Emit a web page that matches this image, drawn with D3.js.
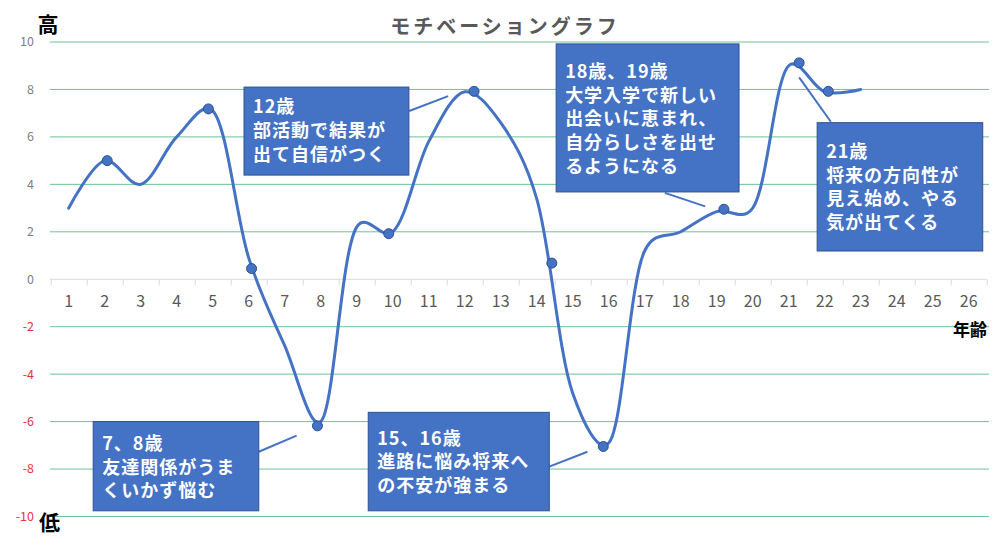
<!DOCTYPE html>
<html><head><meta charset="utf-8">
<script src="https://cdn.jsdelivr.net/npm/d3@7"></script>
<style>
html,body{margin:0;padding:0;background:#fff;}
svg{display:block;font-family:"Noto Sans CJK JP","Noto Sans",sans-serif;}
</style></head>
<body>
<svg id="chart" width="1000" height="537"></svg>
<script>
// ---- data ----
const title = "モチベーショングラフ";
const ages = [1,2,3,4,5,6,7,8,9,10,11,12,13,14,15,16,17,18,19,20,21,22,23];
const motivation = [3,5,4,6,7.1,0.9,-2.8,-6.0,2.2,2.0,5.8,7.9,6.6,3.4,-4.8,-6.9,1.2,2.0,2.85,3.0,9.0,7.9,8.0];
const axisCategories = ["1","2","3","4","5","6","7","8","9","10","11","12","13","14","15","16","17","18","19","20","21","22","23","24","25","26"];
const yTicks = [-10,-8,-6,-4,-2,0,2,4,6,8,10];
const markerAges = [2.07,4.88,6.08,7.91,9.89,12.26,14.42,15.85,19.2,21.29,22.1];
const markerValues = [5.0,7.18,0.45,-6.18,1.92,7.92,0.68,-7.05,2.95,9.12,7.92];
const noteTexts = [
  ["12歳","部活動で結果が","出て自信がつく"],
  ["18歳、19歳","大学入学で新しい","出会いに恵まれ、","自分らしさを出せ","るようになる"],
  ["21歳","将来の方向性が","見え始め、やる","気が出てくる"],
  ["7、8歳","友達関係がうま","くいかず悩む"],
  ["15、16歳","進路に悩み将来へ","の不安が強まる"]
];
const yHigh = "高", yLow = "低", xTitle = "年齢";

// ---- layout (data coordinates for annotation boxes and leaders) ----
const noteLayout = [
  {x0:5.87,x1:10.45,y0:8.10,y1:4.39,lx0:10.46,ly0:7.09,lx1:11.54,ly1:7.72,first:20},
  {x0:14.54,x1:19.62,y0:9.92,y1:3.68,lx0:17.56,ly0:3.64,lx1:18.68,ly1:3.07,first:28},
  {x0:21.79,x1:26.39,y0:6.60,y1:1.19,lx0:22.17,ly0:6.64,lx1:21.29,ly1:8.51,first:29},
  {x0:1.68,x1:6.28,y0:-6.0,y1:-9.76,lx0:6.28,ly0:-7.27,lx1:7.33,ly1:-6.59,first:22},
  {x0:9.32,x1:14.35,y0:-5.61,y1:-9.76,lx0:14.35,ly0:-7.90,lx1:15.41,ly1:-7.27,first:26}
];

const svg = d3.select("#chart");
const x = d3.scaleLinear().domain([0.5, 26.5]).range([50.7, 986.7]);
const y = d3.scaleLinear().domain([-10, 10]).range([516.5, 42]);

// gridlines
svg.append("g").selectAll("line").data(yTicks.filter(d => d !== 0)).join("line")
  .attr("x1", 50).attr("x2", 989)
  .attr("y1", d => y(d)).attr("y2", d => y(d))
  .attr("stroke", "#6cc395").attr("stroke-width", 1);

// zero axis with category ticks
const xAxis = svg.append("g").attr("transform", `translate(0,${y(0)})`)
  .call(d3.axisBottom(x).tickValues(d3.range(0.5, 27, 1)).tickSize(6).tickFormat(""));
xAxis.select(".domain").attr("stroke", "#d9d9d9").attr("d", `M50,0H${x(26.5)}`);
xAxis.selectAll(".tick line").attr("stroke", "#d9d9d9");

// category labels
svg.append("g").selectAll("text").data(axisCategories).join("text")
  .attr("x", (d, i) => x(i + 1)).attr("y", y(0) + 22)
  .attr("dy", "0.35em")
  .attr("text-anchor", "middle")
  .attr("font-size", 16).attr("fill", "#595959")
  .text(d => d);

// y tick labels
svg.append("g").selectAll("text").data(yTicks).join("text")
  .attr("x", 34).attr("y", d => y(d)).attr("dy", "0.35em")
  .attr("text-anchor", "end").attr("font-size", 12.5)
  .attr("fill", d => d < 0 ? "#e8333f" : "#7f7f7f")
  .text(d => d);

// title
svg.append("text").attr("x", 505).attr("y", 27).attr("dy", "0.35em")
  .attr("text-anchor", "middle").attr("font-size", 20).attr("font-weight", "bold")
  .attr("letter-spacing", 3).attr("fill", "#595959").text(title);

svg.append("text").attr("x", 48).attr("y", 25).attr("dy", "0.35em")
  .attr("text-anchor", "middle").attr("font-size", 21).attr("font-weight", "bold").attr("fill", "#000").text(yHigh);
svg.append("text").attr("x", 49.5).attr("y", 523).attr("dy", "0.35em")
  .attr("text-anchor", "middle").attr("font-size", 21).attr("font-weight", "bold").attr("fill", "#000").text(yLow);
svg.append("text").attr("x", 970).attr("y", 330).attr("dy", "0.35em")
  .attr("text-anchor", "middle").attr("font-size", 17).attr("font-weight", "bold").attr("fill", "#000").text(xTitle);

// line
const pts = ages.map((a, i) => [a, motivation[i]]);
svg.append("path").datum(pts)
  .attr("fill", "none").attr("stroke", "#4472c4").attr("stroke-width", 3)
  .attr("stroke-linejoin", "round").attr("stroke-linecap", "round")
  .attr("d", d3.line().x(d => x(d[0])).y(d => y(d[1])).curve(d3.curveCatmullRom.alpha(0.25)));

// markers
svg.append("g").selectAll("circle").data(markerAges.map((a, i) => [a, markerValues[i]])).join("circle")
  .attr("cx", d => x(d[0])).attr("cy", d => y(d[1])).attr("r", 5)
  .attr("fill", "#4472c4").attr("stroke", "#2f528f").attr("stroke-width", 1);

// annotations
const notes = svg.append("g");
noteLayout.forEach((L, i) => {
  notes.append("line")
    .attr("x1", x(L.lx0)).attr("y1", y(L.ly0)).attr("x2", x(L.lx1)).attr("y2", y(L.ly1))
    .attr("stroke", "#4472c4").attr("stroke-width", 2);
  const bx = x(L.x0), by = y(L.y0), bw = x(L.x1) - x(L.x0), bh = y(L.y1) - y(L.y0);
  notes.append("rect").attr("x", bx).attr("y", by).attr("width", bw).attr("height", bh)
    .attr("fill", "#4472c4").attr("stroke", "#2f528f").attr("stroke-width", 1);
  const t = notes.append("text").attr("font-size", 18).attr("font-weight", "bold")
    .attr("fill", "#fff").attr("letter-spacing", 1);
  noteTexts[i].forEach((line, j) => {
    t.append("tspan").attr("x", bx + 9).attr("y", by + L.first + j * 23.6)
      .attr("dy", "0.35em").text(line);
  });
});
</script>
</body></html>
